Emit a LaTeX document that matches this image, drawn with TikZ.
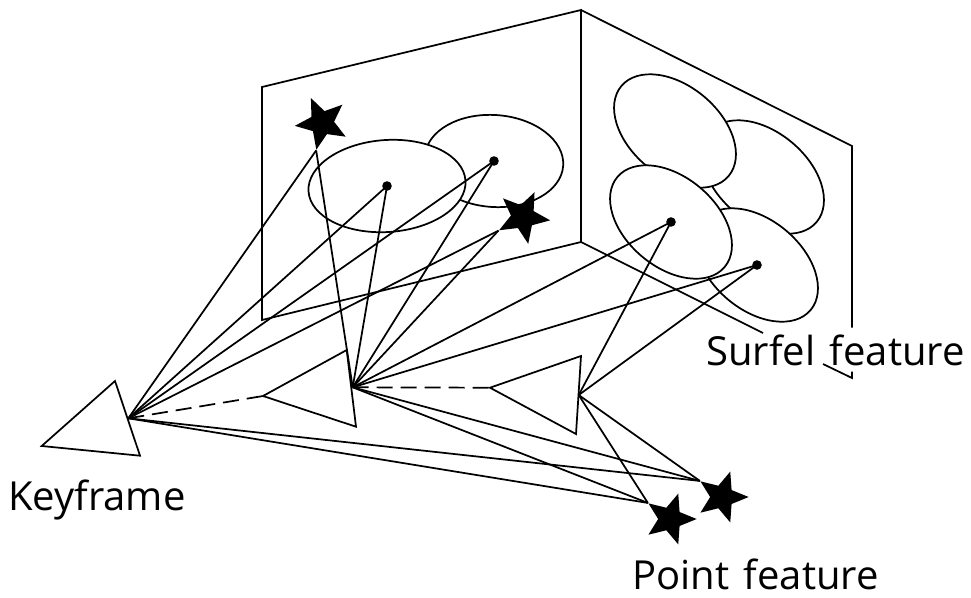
\documentclass[tikz,border=0pt]{standalone}
\usepackage{fontspec}
\setmainfont{Open Sans}
\usetikzlibrary{shapes.geometric}
\tikzset{
  ln/.style={line width=1.3pt,line join=miter},
  blob/.style={ln,fill=white},
  bigstar/.style={star,star points=5,star point ratio=2.25,fill=black,draw=none,inner sep=0pt,minimum size=#1},
  pin/.style={circle,fill=black,inner sep=0pt,minimum size=7.2pt},
  dash1/.style={ln,dash pattern=on 12pt off 6pt},
  lab/.style={font=\fontsize{30pt}{36pt}\selectfont,inner sep=0pt,anchor=base west},
}
\begin{document}
\begin{tikzpicture}[x=0.75pt,y=-0.75pt]
\useasboundingbox (0,0) rectangle (971,597);
% walls
\coordinate (wa) at (262,87);
\coordinate (wb) at (581,10);
\coordinate (wc) at (581,242);
\coordinate (wd) at (262,320);
\coordinate (we) at (852,146);
\coordinate (wf) at (852,327.5);
\coordinate (wg) at (852,371.5);
\coordinate (wh) at (852,378);
\coordinate (wi) at (823,364);
\coordinate (wj) at (763,333);
\draw[ln] (wa) -- (wb) -- (wc) -- (wd) -- cycle;
\draw[ln] (wb) -- (we) -- (wf);
\draw[ln] (wg) -- (wh) -- (wi);
\draw[ln] (wc) -- (wj);
% left wall patches
\draw[blob] (494,161) circle [x radius=52pt,y radius=34.5pt,rotate=-4];
\draw[blob] (387,186) circle [x radius=59pt,y radius=34.5pt,rotate=4];
% right wall patches
\draw[blob] (763,177) circle [x radius=52.5pt,y radius=33.8pt,rotate=-40];
\draw[blob] (675,131) circle [x radius=52.5pt,y radius=33.8pt,rotate=-40];
\draw[blob] (757,265) circle [x radius=52.5pt,y radius=33.8pt,rotate=-40];
\draw[blob] (671,222) circle [x radius=52.5pt,y radius=33.8pt,rotate=-40];
% pins
\node[pin] (p1) at (387,186) {};
\node[pin] (p2) at (494,161) {};
\node[pin] (p3) at (671,222) {};
\node[pin] (p4) at (757,265) {};
% stars
\node[bigstar=41pt,shape border rotate=24] (s1) at (322,123) {};
\node[bigstar=41pt,shape border rotate=-25] (s2) at (523,217) {};
\node[bigstar=40pt,shape border rotate=-18] (s3) at (670,519) {};
\node[bigstar=40pt,shape border rotate=-18] (s4) at (722,497) {};
% keyframes
\coordinate (k1a) at (115,381);
\coordinate (k1b) at (41.7,446);
\coordinate (k1c) at (140,455.7);
\coordinate (k2a) at (346.7,350);
\coordinate (k2b) at (263,396);
\coordinate (k2c) at (356,426.7);
\coordinate (k3a) at (581,356);
\coordinate (k3b) at (490,387.7);
\coordinate (k3c) at (576,434);
\coordinate (f1) at (128.3,418.3);
\coordinate (f2) at (352.7,387.3);
\coordinate (f3) at (578.7,395);
\draw[ln] (k1a) -- (k1b) -- (k1c) -- cycle;
\draw[ln] (k2a) -- (k2b) -- (k2c) -- cycle;
\draw[ln] (k3a) -- (k3b) -- (k3c) -- cycle;
% rays
\foreach \t in {s1.outer point 3,p1.center,p2.center,s2.outer point 3,s3.outer point 2,s4.outer point 2}{
  \draw[ln] (f1) -- (\t);
}
\foreach \t in {s1.outer point 3,p1.center,p2.center,s2.outer point 3,p3.center,p4.center,s3.outer point 2,s4.outer point 2}{
  \draw[ln] (f2) -- (\t);
}
\foreach \t in {p3.center,p4.center,s3.outer point 2,s4.outer point 2}{
  \draw[ln] (f3) -- (\t);
}
\draw[dash1] (f1) -- (k2b);
\draw[dash1] (f2) -- (k3b);
% labels
\node[lab] (t1) at (8,510) {Keyframe};
\node[lab] (t2) at (706,365) {Surfel\hspace{11pt}feature};
\node[lab] (t3) at (632,589) {Point\hspace{11pt}feature};
\end{tikzpicture}
\end{document}
